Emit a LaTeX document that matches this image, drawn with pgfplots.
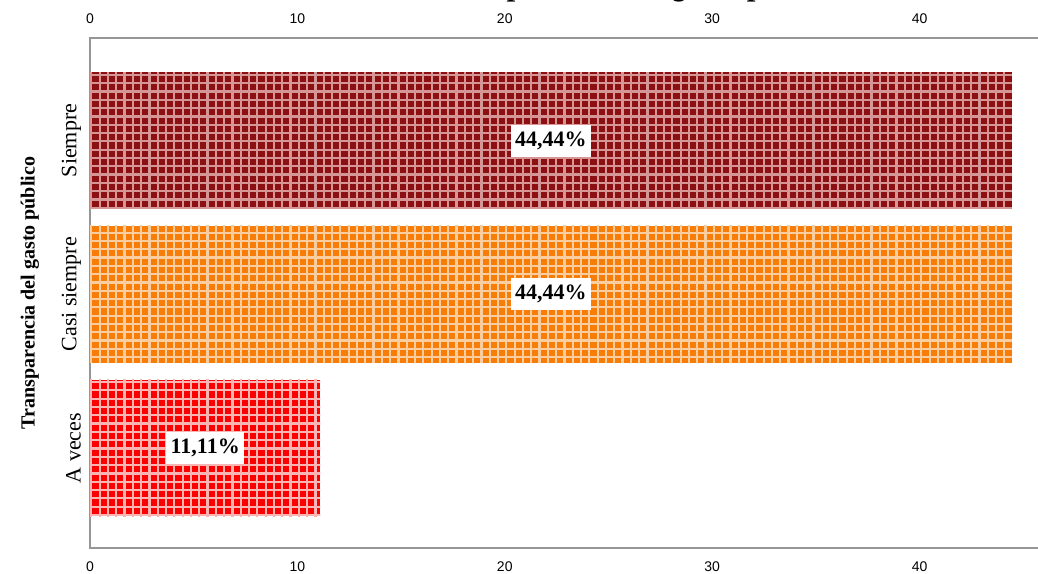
\documentclass[border=0pt]{standalone}
\usepackage{fontspec}
\setmainfont{Liberation Serif}
\setsansfont{Liberation Sans}
\usepackage{pgfplots}
\usepackage{pgfplotstable}
\pgfplotsset{compat=1.18}
\usetikzlibrary{patterns}

% light check pattern laid over the bar fills
\pgfdeclarepatternformonly{checks}{\pgfqpoint{-1pt}{-1pt}}{\pgfqpoint{5.15pt}{5.15pt}}{\pgfqpoint{4.15pt}{4.15pt}}{%
  \pgfsetlinewidth{1.1pt}%
  \pgfpathmoveto{\pgfqpoint{0pt}{-1pt}}\pgfpathlineto{\pgfqpoint{0pt}{5.15pt}}%
  \pgfpathmoveto{\pgfqpoint{-1pt}{0pt}}\pgfpathlineto{\pgfqpoint{5.15pt}{0pt}}%
  \pgfusepath{stroke}}

\definecolor{cSiempre}{RGB}{140,16,18}
\definecolor{cSiempreL}{RGB}{215,150,150}
\definecolor{cCasi}{RGB}{245,125,8}
\definecolor{cCasiL}{RGB}{250,205,160}
\definecolor{cVeces}{RGB}{250,0,0}
\definecolor{cVecesL}{RGB}{250,180,180}
\definecolor{axisgray}{RGB}{150,150,150}

% cat: 0 = A veces, 1 = Casi siempre, 2 = Siempre ; v = percentage
\pgfplotstableread{
cat v
0 11.11
1 44.44
2 44.44
}\datatable

\begin{document}
\begin{tikzpicture}
\useasboundingbox (0,0) rectangle (519pt,286.5pt);
\pgfplotsset{
  common/.style={
    at={(45pt,12.5pt)}, anchor=south west,
    scale only axis, width=477pt, height=255pt,
    xmin=0, xmax=46, ymin=-0.65, ymax=2.667,
    xtick={0,10,20,30,40},
    major tick length=0pt,
    axis line style={axisgray, line width=0.9pt},
    /pgf/number format/assume math mode=true,
    xticklabel style={font=\sffamily\fontsize{7}{8}\selectfont},
  },
  barstyle/.style 2 args={xbar, bar shift=0pt, bar width=0.89, draw=none,
    fill=#1, postaction={pattern=checks, pattern color=#2}},
}
\begin{axis}[common,
  xticklabel pos=lower,
  xticklabel style={yshift=-3.5pt},
  ytick={0,1,2},
  yticklabels={A veces, Casi siempre, Siempre},
  yticklabel style={font=\fontsize{11}{12}\selectfont, rotate=90, anchor=south, yshift=1pt},
  ylabel={Transparencia del gasto público},
  every axis y label/.style={at={(axis description cs:-0.0629,0.5)}, rotate=90, anchor=center,
    font=\bfseries\fontsize{10}{12}\selectfont},
]
\addplot[barstyle={cVeces}{cVecesL}] coordinates {(11.11,0)};
\addplot[barstyle={cCasi}{cCasiL}] coordinates {(44.44,1)};
\addplot[barstyle={cSiempre}{cSiempreL}] coordinates {(44.44,2)};
\addplot[draw=none, mark=none, point meta=\thisrow{v},
  nodes near coords={\pgfmathprintnumber[fixed,fixed zerofill,precision=2,use comma]{\pgfplotspointmeta}\%},
  every node near coord/.style={anchor=center, fill=white, inner xsep=2.2pt, inner ysep=3.5pt,
    font=\bfseries\fontsize{11}{13}\selectfont}]
  table[x expr=\thisrow{v}/2, y=cat] {\datatable};
\end{axis}
\begin{axis}[common,
  axis x line*=top, axis y line=none,
  xticklabel pos=upper,
  xticklabel style={yshift=3.5pt},
]
\end{axis}
\node[anchor=base west, inner sep=0, font=\bfseries\itshape\fontsize{15.5}{18}\selectfont]
  at (217pt,288.6pt) {Transparencia del gasto público};
\end{tikzpicture}
\end{document}
